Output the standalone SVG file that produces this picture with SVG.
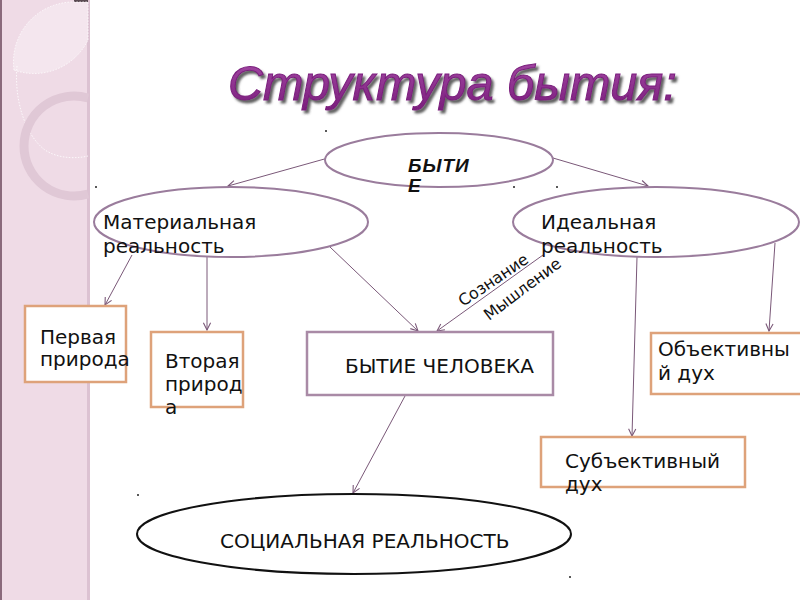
<svg xmlns="http://www.w3.org/2000/svg" width="800" height="600" viewBox="0 0 800 600">
<defs>
<style>
.t{font-family:"DejaVu Sans","Noto Sans",sans-serif;font-size:20px;fill:#111}
.s{font-family:"DejaVu Sans","Noto Sans",sans-serif;font-size:16px;fill:#111}
.ell{fill:#fff;stroke:#9a7c9c;stroke-width:2}
.box{fill:#fff;stroke:#dea27a;stroke-width:2.5}
.pbox{fill:#fff;stroke:#a98aa6;stroke-width:2.5}
.c{stroke:#7a5878;stroke-width:1;fill:none;marker-end:url(#ah)}
.dot{fill:#222}
</style>
<marker id="ah" viewBox="0 0 10 10" refX="9" refY="5" markerWidth="9" markerHeight="9" orient="auto" markerUnits="userSpaceOnUse">
<path d="M1,1 L9,5 L1,9" fill="none" stroke="#7a5878" stroke-width="1.2"/>
</marker>
<linearGradient id="tg" x1="0" y1="0" x2="0" y2="1">
<stop offset="0" stop-color="#a64aa6"/>
<stop offset="1" stop-color="#7a1e7c"/>
</linearGradient>
<filter id="sh" x="-5%" y="-20%" width="110%" height="150%">
<feDropShadow dx="2.5" dy="3" stdDeviation="0.8" flood-color="#444" flood-opacity="0.85"/>
</filter>
</defs>
<rect width="800" height="600" fill="#fff"/>
<g id="background">
<rect x="0" y="0" width="88" height="600" fill="#efdbe6"/>
<rect x="0" y="0" width="2" height="600" fill="#8a6a7c"/>
<rect x="87" y="0" width="3" height="600" fill="#dcc2d2"/>
<rect x="74" y="0" width="14" height="3" fill="#5a4a52"/>
<path d="M14,70 A60,60 0 0 1 74,2 L88,2 L88,40 A60,60 0 0 1 14,70 Z" fill="#f4e6ee" stroke="#fff" stroke-width="0.8" stroke-dasharray="1.5,1.5"/>
<path d="M17,66 C14,100 25,135 45,150 C60,160 80,158 88,156" fill="none" stroke="#fff" stroke-width="0.8" stroke-dasharray="1.5,1.5"/>
<path d="M88,98 A50,50 0 1 0 88,194" fill="none" stroke="#e0c8d6" stroke-width="9"/>
</g>
<g id="title">
<text x="228" y="100" font-family="'Liberation Sans',Arial,sans-serif" font-size="48.5" font-style="italic" fill="url(#tg)" stroke="#7a1e7c" stroke-width="1" filter="url(#sh)">Структура бытия:</text>
</g>
<g id="connectors">
<line class="c" x1="328" y1="158" x2="228" y2="186"/>
<line class="c" x1="553" y1="158" x2="648" y2="186"/>
<line class="c" x1="132" y1="255" x2="105" y2="305"/>
<line class="c" x1="207" y1="257" x2="207" y2="330"/>
<line class="c" x1="330" y1="247" x2="418" y2="331"/>
<line class="c" x1="543" y1="255" x2="437" y2="331"/>
<line class="c" x1="637" y1="257" x2="632" y2="436"/>
<line class="c" x1="775" y1="243" x2="769" y2="331"/>
<line class="c" x1="405" y1="396" x2="353" y2="493"/>
<text class="s" transform="translate(463,307) rotate(-34)">Сознание</text>
<text class="s" transform="translate(489,321) rotate(-37)">Мышление</text>
</g>
<g id="node-bytie">
<ellipse class="ell" cx="439" cy="160" rx="114" ry="27"/>
<text x="408" y="172" font-family="'Liberation Sans',Arial,sans-serif" font-size="19" font-weight="bold" font-style="italic" letter-spacing="1" fill="#111">БЫТИ</text>
<text x="408" y="192" font-family="'Liberation Sans',Arial,sans-serif" font-size="19" font-weight="bold" font-style="italic" fill="#111">Е</text>
</g>
<g id="node-material">
<ellipse class="ell" cx="231" cy="222" rx="137" ry="35"/>
<text class="t" x="103" y="229">Материальная</text>
<text class="t" x="103" y="253">реальность</text>
</g>
<g id="node-ideal">
<ellipse class="ell" cx="656" cy="222" rx="143" ry="35"/>
<text class="t" x="541" y="229">Идеальная</text>
<text class="t" x="541" y="253">реальность</text>
</g>
<g id="node-first">
<rect class="box" x="25" y="306" width="101" height="76"/>
<text class="t" x="40" y="344">Первая</text>
<text class="t" x="40" y="366">природа</text>
</g>
<g id="node-second">
<rect class="box" x="151" y="332" width="92" height="75"/>
<text class="t" x="165" y="368">Вторая</text>
<text class="t" x="165" y="391">природ</text>
<text class="t" x="165" y="414">а</text>
</g>
<g id="node-human">
<rect class="pbox" x="307" y="332" width="246" height="63"/>
<text class="t" x="345" y="373">БЫТИЕ ЧЕЛОВЕКА</text>
</g>
<g id="node-objective">
<rect class="box" x="651" y="333" width="152" height="61"/>
<text class="t" x="658" y="356">Объективны</text>
<text class="t" x="658" y="380">й дух</text>
</g>
<g id="node-subjective">
<rect class="box" x="541" y="437" width="204" height="50"/>
<text class="t" x="565" y="468">Субъективный</text>
<text class="t" x="565" y="491">дух</text>
</g>
<g id="node-social">
<ellipse cx="354" cy="534" rx="217" ry="40" fill="#fff" stroke="#111" stroke-width="2"/>
<text class="t" x="220" y="548">СОЦИАЛЬНАЯ РЕАЛЬНОСТЬ</text>
</g>
<g id="dots">
<circle class="dot" cx="326" cy="131" r="1"/>
<circle class="dot" cx="96" cy="187" r="1"/>
<circle class="dot" cx="514" cy="187" r="1"/>
<circle class="dot" cx="557" cy="187" r="1"/>
<circle class="dot" cx="138" cy="495" r="1"/>
<circle class="dot" cx="570" cy="577" r="1"/>
</g>
</svg>
